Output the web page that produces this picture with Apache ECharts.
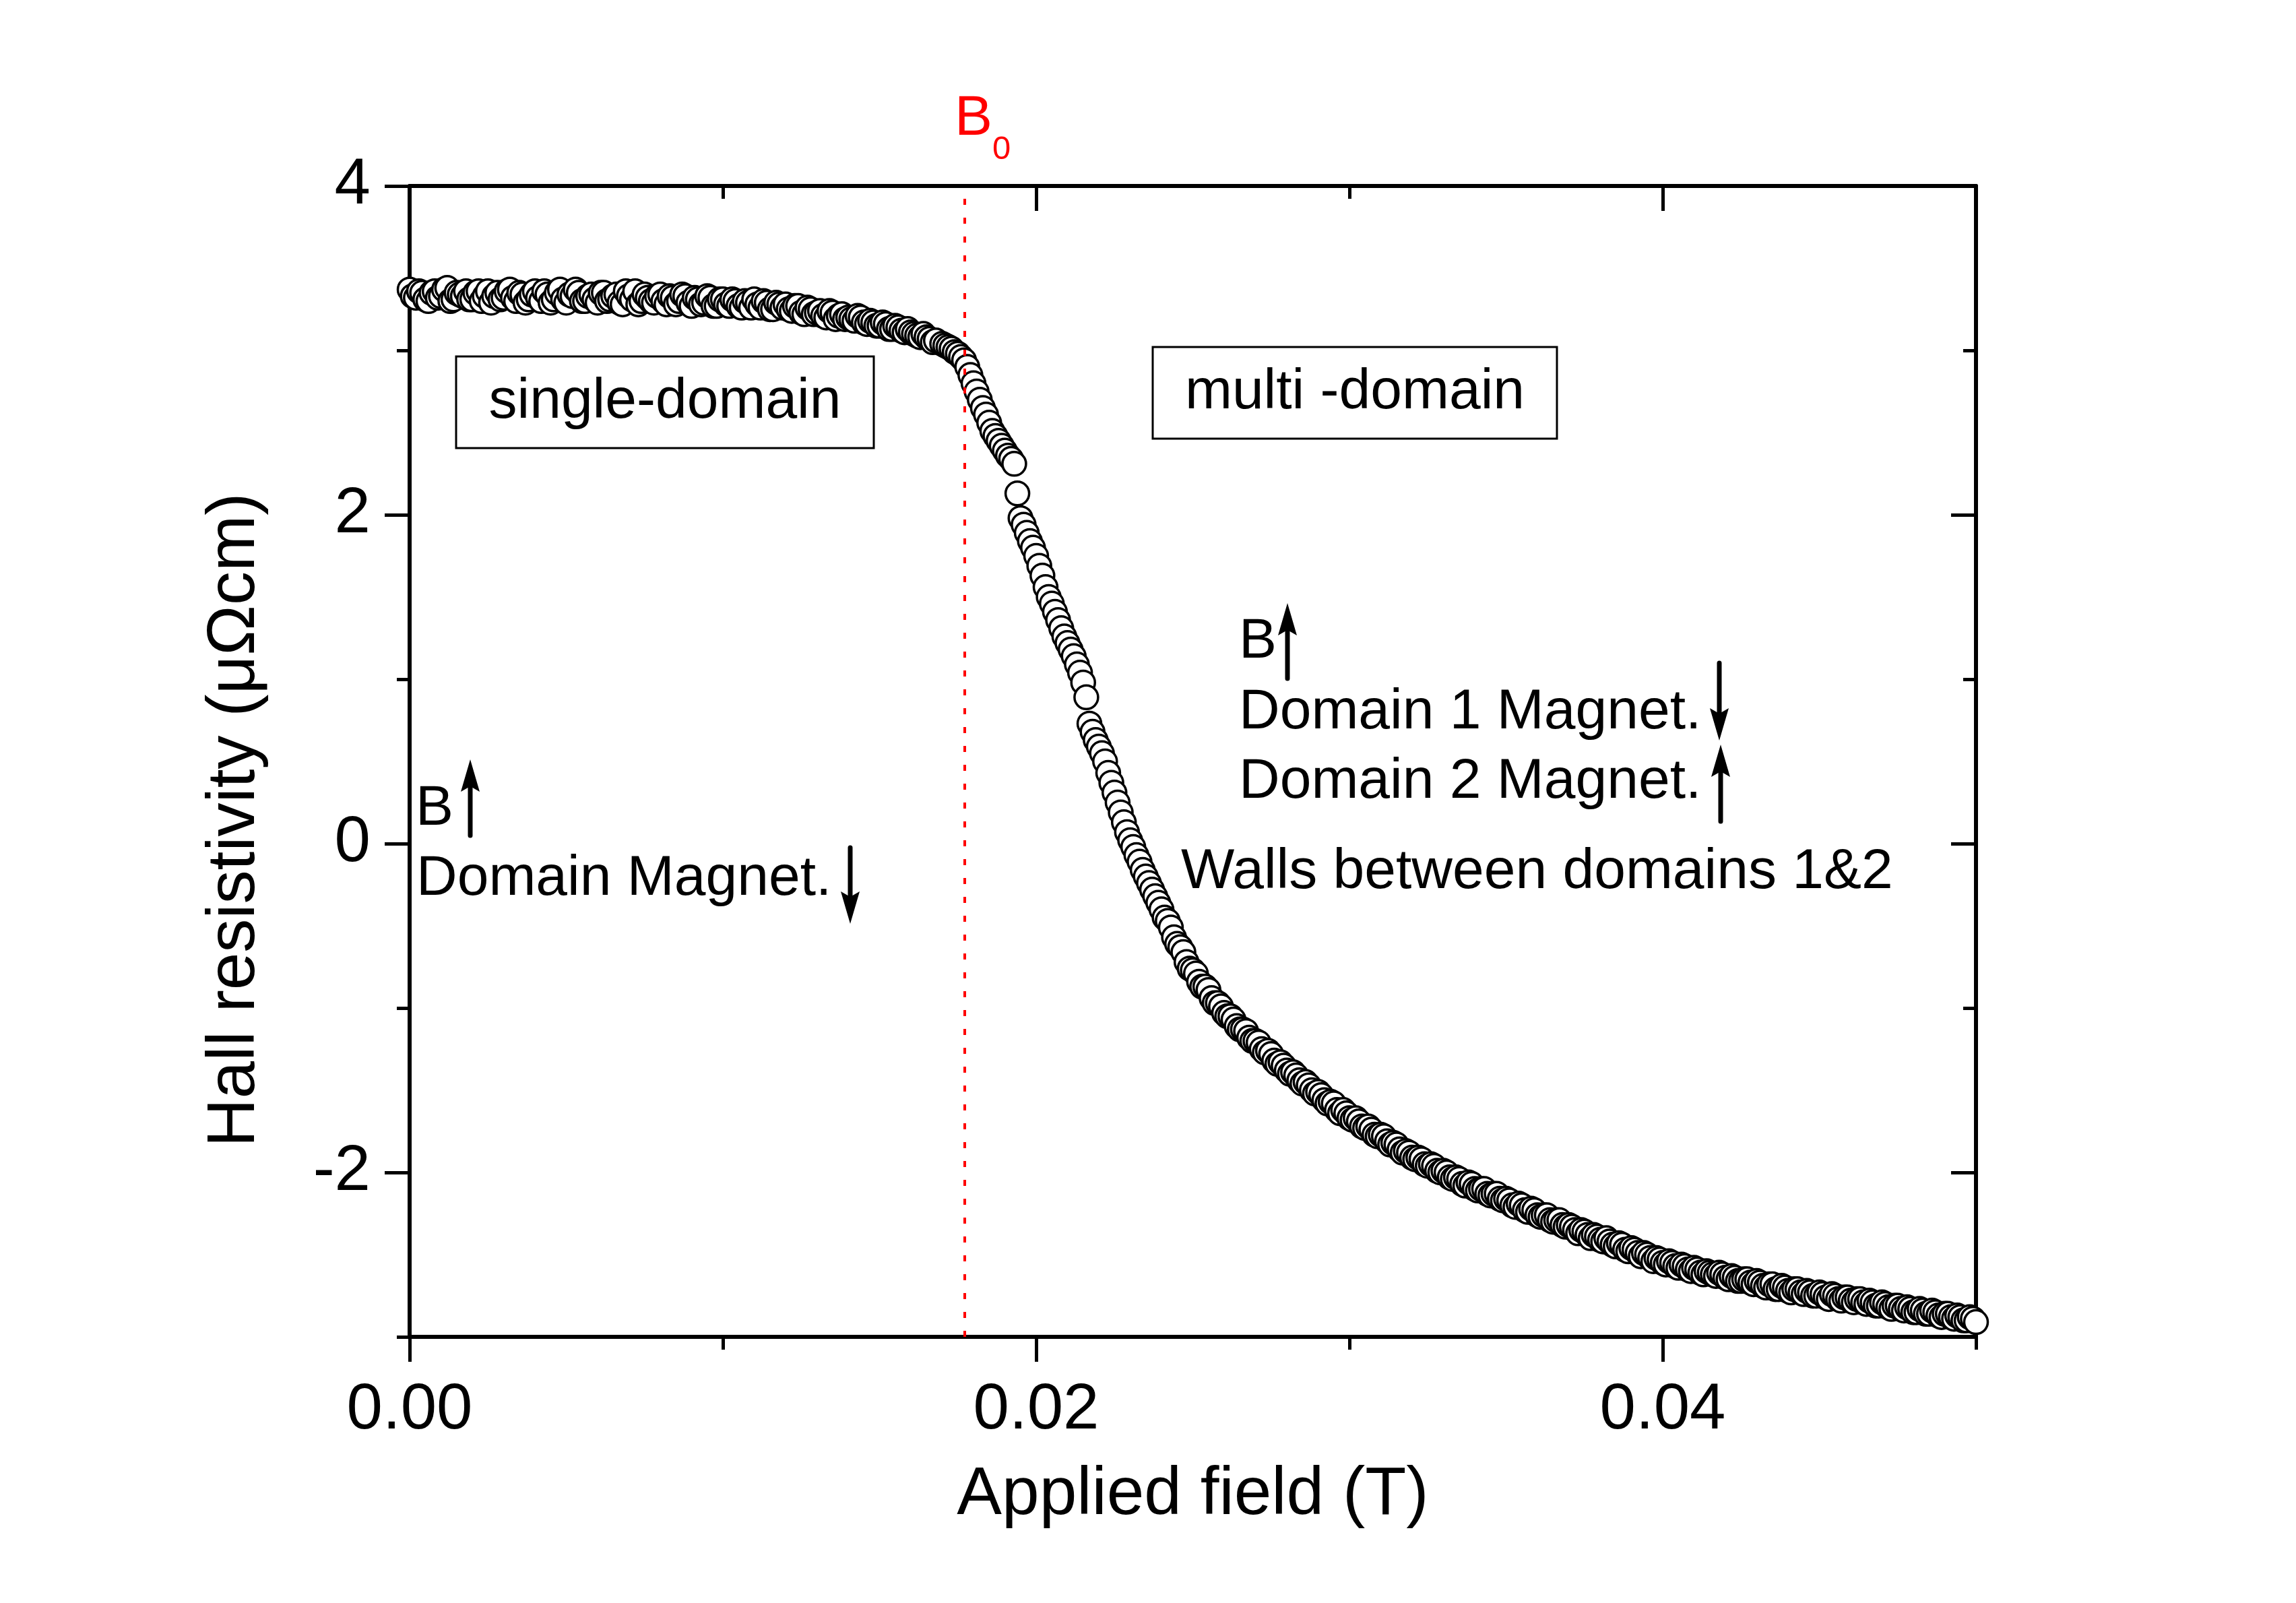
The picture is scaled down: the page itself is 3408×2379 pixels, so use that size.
<!DOCTYPE html>
<html>
<head>
<meta charset="utf-8">
<title>Hall resistivity vs applied field</title>
<script src="https://cdn.jsdelivr.net/npm/echarts@6.0.0/dist/echarts.min.js"></script>
<style>
    html, body { margin: 0; padding: 0; background: #fff; }
    #hall-chart { width: 3408px; height: 2379px; }
</style>
</head>
<body>
<div id="hall-chart"></div>
<script>
// applied field (T)
var field = [
    0.0000,0.0002,0.0004,0.0006,0.0008,0.0010,0.0012,0.0014,0.0016,0.0018,
    0.0020,0.0022,0.0024,0.0026,0.0028,0.0030,0.0032,0.0034,0.0036,0.0038,
    0.0040,0.0042,0.0044,0.0046,0.0048,0.0050,0.0052,0.0054,0.0056,0.0058,
    0.0060,0.0062,0.0064,0.0066,0.0068,0.0070,0.0072,0.0074,0.0076,0.0078,
    0.0080,0.0082,0.0084,0.0086,0.0088,0.0090,0.0092,0.0094,0.0096,0.0098,
    0.0100,0.0102,0.0104,0.0106,0.0108,0.0110,0.0112,0.0114,0.0116,0.0118,
    0.0120,0.0122,0.0124,0.0126,0.0128,0.0130,0.0132,0.0134,0.0136,0.0138,
    0.0140,0.0142,0.0144,0.0146,0.0148,0.0150,0.0152,0.0154,0.0156,0.0158,
    0.0160,0.0162,0.0164,0.0166,0.0168,
    0.0170,0.0171,0.0172,0.0173,0.0174,0.0175,0.0176,0.0177,0.0178,0.0179,
    0.0180,0.0181,0.0182,0.0183,0.0184,0.0185,0.0186,0.0187,0.0188,0.0189,
    0.0190,0.0191,0.0192,0.0193,0.0194,0.0195,0.0196,0.0197,0.0198,0.0199,
    0.0200,0.0201,0.0202,0.0203,0.0204,0.0205,0.0206,0.0207,0.0208,0.0209,
    0.0210,0.0211,0.0212,0.0213,0.0214,0.0215,0.0216,0.0217,0.0218,0.0219,
    0.0220,0.0221,0.0222,0.0223,0.0224,0.0225,0.0226,0.0227,0.0228,0.0229,
    0.0230,0.0231,0.0232,0.0233,0.0234,0.0235,0.0236,0.0237,0.0238,0.0239,
    0.0240,
    0.0242,0.0244,0.0246,0.0248,0.0250,0.0252,0.0254,0.0256,0.0258,0.0260,
    0.0262,0.0264,0.0266,0.0268,0.0270,0.0272,0.0274,0.0276,0.0278,0.0280,
    0.0282,0.0284,0.0286,0.0288,0.0290,0.0292,0.0294,0.0296,0.0298,0.0300,
    0.0302,0.0304,0.0306,0.0308,0.0310,0.0312,0.0314,0.0316,0.0318,0.0320,
    0.0322,0.0324,0.0326,0.0328,0.0330,0.0332,0.0334,0.0336,0.0338,0.0340,
    0.0342,0.0344,0.0346,0.0348,0.0350,0.0352,0.0354,0.0356,0.0358,0.0360,
    0.0362,0.0364,0.0366,0.0368,0.0370,0.0372,0.0374,0.0376,0.0378,0.0380,
    0.0382,0.0384,0.0386,0.0388,0.0390,0.0392,0.0394,0.0396,0.0398,0.0400,
    0.0402,0.0404,0.0406,0.0408,0.0410,0.0412,0.0414,0.0416,0.0418,0.0420,
    0.0422,0.0424,0.0426,0.0428,0.0430,0.0432,0.0434,0.0436,0.0438,0.0440,
    0.0442,0.0444,0.0446,0.0448,0.0450,0.0452,0.0454,0.0456,0.0458,0.0460,
    0.0462,0.0464,0.0466,0.0468,0.0470,0.0472,0.0474,0.0476,0.0478,0.0480,
    0.0482,0.0484,0.0486,0.0488,0.0490,0.0492,0.0494,0.0496,0.0498,0.0500
];
// Hall resistivity (μΩcm), same order as field
var rho = [
    3.37,3.32,3.35,3.30,3.36,3.33,3.38,3.31,3.34,3.36,
    3.31,3.36,3.33,3.29,3.35,3.32,3.37,3.30,3.34,3.31,
    3.36,3.30,3.34,3.31,3.37,3.29,3.33,3.35,3.30,3.34,
    3.29,3.35,3.31,3.34,3.28,3.33,3.36,3.30,3.32,3.29,
    3.34,3.28,3.32,3.30,3.33,3.27,3.31,3.29,3.32,3.27,
    3.31,3.27,3.30,3.26,3.29,3.31,3.26,3.29,3.25,3.28,
    3.28,3.24,3.27,3.22,3.25,3.23,3.21,3.24,3.19,3.22,
    3.20,3.18,3.20,3.16,3.17,3.15,3.16,3.13,3.14,3.11,
    3.11,3.09,3.10,3.07,3.06,
    3.04,3.03,3.02,3.01,2.99,2.98,2.96,2.94,2.90,2.85,
    2.80,2.75,2.70,2.65,2.61,2.56,2.51,2.48,2.45,2.42,
    2.39,2.36,2.34,2.31,2.13,1.98,1.94,1.89,1.84,1.80,
    1.75,1.69,1.63,1.56,1.50,1.46,1.41,1.36,1.31,1.26,
    1.22,1.18,1.14,1.09,1.04,0.98,0.89,0.73,0.68,0.63,
    0.59,0.55,0.50,0.43,0.37,0.31,0.25,0.19,0.13,0.07,
    0.02,-0.02,-0.07,-0.11,-0.16,-0.20,-0.24,-0.28,-0.32,-0.36,
    -0.40,
    -0.47,-0.57,-0.63,-0.72,-0.77,-0.84,-0.87,-0.94,-0.97,-1.03,
    -1.05,-1.11,-1.13,-1.18,-1.20,-1.25,-1.26,-1.32,-1.33,-1.38,
    -1.39,-1.44,-1.45,-1.50,-1.51,-1.56,-1.57,-1.62,-1.62,-1.67,
    -1.67,-1.72,-1.72,-1.77,-1.77,-1.81,-1.82,-1.86,-1.87,-1.91,
    -1.91,-1.95,-1.95,-1.99,-1.99,-2.03,-2.03,-2.07,-2.06,-2.10,
    -2.10,-2.13,-2.13,-2.16,-2.16,-2.20,-2.19,-2.23,-2.22,-2.26,
    -2.26,-2.29,-2.29,-2.32,-2.32,-2.35,-2.35,-2.38,-2.38,-2.41,
    -2.40,-2.44,-2.43,-2.47,-2.46,-2.49,-2.49,-2.52,-2.52,-2.55,
    -2.54,-2.57,-2.56,-2.59,-2.58,-2.61,-2.60,-2.62,-2.61,-2.64,
    -2.63,-2.66,-2.65,-2.67,-2.66,-2.69,-2.68,-2.71,-2.69,-2.72,
    -2.71,-2.73,-2.72,-2.75,-2.73,-2.76,-2.74,-2.77,-2.76,-2.78,
    -2.77,-2.79,-2.78,-2.81,-2.79,-2.82,-2.81,-2.83,-2.82,-2.85,
    -2.83,-2.86,-2.84,-2.87,-2.86,-2.88,-2.87,-2.90,-2.88,-2.91
];
// readings lying between the ones above (flat part and tail), read the same way
var field2 = [
    0.0001,0.0003,0.0005,0.0007,0.0009,0.0011,0.0013,0.0015,0.0017,0.0019,
    0.0021,0.0023,0.0025,0.0027,0.0029,0.0031,0.0033,0.0035,0.0037,0.0039,
    0.0041,0.0043,0.0045,0.0047,0.0049,0.0051,0.0053,0.0055,0.0057,0.0059,
    0.0061,0.0063,0.0065,0.0067,0.0069,0.0071,0.0073,0.0075,0.0077,0.0079,
    0.0081,0.0083,0.0085,0.0087,0.0089,0.0091,0.0093,0.0095,0.0097,0.0099,
    0.0101,0.0103,0.0105,0.0107,0.0109,0.0111,0.0113,0.0115,0.0117,0.0119,
    0.0121,0.0123,0.0125,0.0127,0.0129,0.0131,0.0133,0.0135,0.0137,0.0139,
    0.0141,0.0143,0.0145,0.0147,0.0149,0.0151,0.0153,0.0155,0.0157,0.0159,
    0.0161,0.0163,0.0165,0.0167,
    0.0241,0.0243,0.0245,0.0247,0.0249,0.0251,0.0253,0.0255,0.0257,0.0259,
    0.0261,0.0263,0.0265,0.0267,0.0269,0.0271,0.0273,0.0275,0.0277,0.0279,
    0.0281,0.0283,0.0285,0.0287,0.0289,0.0291,0.0293,0.0295,0.0297,0.0299,
    0.0301,0.0303,0.0305,0.0307,0.0309,0.0311,0.0313,0.0315,0.0317,0.0319,
    0.0321,0.0323,0.0325,0.0327,0.0329,0.0331,0.0333,0.0335,0.0337,0.0339,
    0.0341,0.0343,0.0345,0.0347,0.0349,0.0351,0.0353,0.0355,0.0357,0.0359,
    0.0361,0.0363,0.0365,0.0367,0.0369,0.0371,0.0373,0.0375,0.0377,0.0379,
    0.0381,0.0383,0.0385,0.0387,0.0389,0.0391,0.0393,0.0395,0.0397,0.0399,
    0.0401,0.0403,0.0405,0.0407,0.0409,0.0411,0.0413,0.0415,0.0417,0.0419,
    0.0421,0.0423,0.0425,0.0427,0.0429,0.0431,0.0433,0.0435,0.0437,0.0439,
    0.0441,0.0443,0.0445,0.0447,0.0449,0.0451,0.0453,0.0455,0.0457,0.0459,
    0.0461,0.0463,0.0465,0.0467,0.0469,0.0471,0.0473,0.0475,0.0477,0.0479,
    0.0481,0.0483,0.0485,0.0487,0.0489,0.0491,0.0493,0.0495,0.0497,0.0499
];
var rho2 = [
    3.33,3.36,3.31,3.35,3.32,3.37,3.30,3.35,3.33,3.31,
    3.35,3.30,3.36,3.33,3.31,3.36,3.32,3.35,3.29,3.34,
    3.32,3.36,3.29,3.35,3.31,3.34,3.37,3.30,3.33,3.31,
    3.35,3.30,3.33,3.29,3.36,3.31,3.28,3.34,3.30,3.33,
    3.30,3.33,3.28,3.34,3.29,3.32,3.28,3.33,3.27,3.31,
    3.28,3.31,3.27,3.30,3.26,3.28,3.30,3.25,3.29,3.26,
    3.25,3.27,3.23,3.26,3.22,3.24,3.20,3.23,3.21,3.19,
    3.19,3.21,3.17,3.18,3.15,3.17,3.13,3.15,3.12,3.13,
    3.10,3.08,3.08,3.05,
    -0.45,-0.51,-0.61,-0.66,-0.76,-0.79,-0.87,-0.89,-0.97,-0.99,
    -1.05,-1.07,-1.13,-1.14,-1.20,-1.21,-1.27,-1.28,-1.34,-1.35,
    -1.40,-1.41,-1.46,-1.47,-1.52,-1.53,-1.58,-1.58,-1.64,-1.64,
    -1.68,-1.69,-1.73,-1.74,-1.78,-1.78,-1.83,-1.83,-1.88,-1.88,
    -1.92,-1.92,-1.96,-1.96,-2.00,-2.00,-2.04,-2.04,-2.08,-2.07,
    -2.11,-2.10,-2.14,-2.13,-2.17,-2.17,-2.21,-2.20,-2.24,-2.23,
    -2.27,-2.26,-2.30,-2.29,-2.33,-2.33,-2.37,-2.36,-2.40,-2.39,
    -2.42,-2.42,-2.45,-2.44,-2.48,-2.47,-2.51,-2.50,-2.54,-2.53,
    -2.56,-2.55,-2.58,-2.57,-2.60,-2.59,-2.62,-2.61,-2.63,-2.62,
    -2.65,-2.64,-2.66,-2.65,-2.68,-2.67,-2.70,-2.68,-2.71,-2.70,
    -2.73,-2.71,-2.74,-2.73,-2.75,-2.74,-2.77,-2.75,-2.78,-2.76,
    -2.79,-2.77,-2.80,-2.79,-2.81,-2.80,-2.83,-2.81,-2.84,-2.83,
    -2.85,-2.84,-2.86,-2.85,-2.88,-2.86,-2.89,-2.88,-2.90,-2.89
];
var b0Field = 0.01772;                 // B0, red dotted line
var fieldTicks = [0, 0.02, 0.04];      // labelled x ticks
var rhoTicks = [-2, 0, 2, 4];          // labelled y ticks

var FONT = '"Liberation Sans", Arial, sans-serif';

var myChart = echarts.init(document.getElementById('hall-chart'));

// one axis of the frame: major = long ticks (+labels), minor = short ticks only
function frameAxis(grid, pos, isMajor, extra) {
    var isX = pos === 'bottom' || pos === 'top';
    var outside = pos === 'bottom' || pos === 'left';
    var ax = {
        type: 'value',
        gridIndex: grid,
        position: pos,
        min: isX ? 0 : -3,
        max: isX ? 0.05 : 4,
        interval: isX ? 0.01 : 1,
        axisLine: { show: isMajor, onZero: false, lineStyle: { color: '#000', width: 6 } },
        axisTick: {
            show: true,
            inside: !outside,
            length: isMajor ? 37 : 19,
            lineStyle: { color: '#000', width: 5 }
        },
        axisLabel: { show: false },
        splitLine: { show: false }
    };
    if (isMajor) {
        ax.axisTick.customValues = isX ? fieldTicks : rhoTicks;
    }
    return Object.assign(ax, extra || {});
}

// both reading lists together, in field order so later points sit on top
var series = field.map(function (f, i) { return [f, rho[i]]; })
    .concat(field2.map(function (f, i) { return [f, rho2[i]]; }))
    .sort(function (a, b) { return a[0] - b[0]; });

// vertical arrow: shaft + head, tip at y2
function arrow(x, y1, y2) {
    var d = y2 > y1 ? 1 : -1;
    return [{
        type: 'line',
        shape: { x1: x, y1: y1, x2: x, y2: y2 - d * 34 },
        style: { stroke: '#000', lineWidth: 7, lineCap: 'round' }
    }, {
        type: 'polygon',
        shape: { points: [[x, y2], [x + 14, y2 - d * 48], [x, y2 - d * 40], [x - 14, y2 - d * 48]] },
        style: { fill: '#000' }
    }];
}
function label(x, y, txt, size, color) {
    return {
        type: 'text', x: x, y: y,
        style: {
            text: txt, fill: color || '#000', fontSize: size || 84, fontFamily: FONT,
            align: 'left', verticalAlign: 'middle'
        }
    };
}
function box(x, y, w, h) {
    return {
        type: 'rect', shape: { x: x, y: y, width: w, height: h },
        style: { fill: 'none', stroke: '#000', lineWidth: 3 }
    };
}

var notes = [
    box(677, 529, 620, 136),
    { type: 'text', x: 987, y: 597, style: { text: 'single-domain', fill: '#000', fontSize: 84, fontFamily: FONT, align: 'center', verticalAlign: 'middle' } },
    box(1711, 515, 600, 136),
    { type: 'text', x: 2011, y: 583, style: { text: 'multi -domain', fill: '#000', fontSize: 84, fontFamily: FONT, align: 'center', verticalAlign: 'middle' } },
    label(617, 1201, 'B'),
    label(618, 1305, 'Domain Magnet.'),
    label(1839, 953, 'B'),
    label(1839, 1058, 'Domain 1 Magnet.'),
    label(1839, 1161, 'Domain 2 Magnet.'),
    label(1753, 1295, 'Walls between domains 1&2'),
    label(1417, 177, 'B', 84, '#ff0000'),
    label(1473, 222, '0', 49, '#ff0000')
].concat(
    arrow(698, 1240, 1127),
    arrow(1262, 1258, 1371),
    arrow(1911, 1007, 895),
    arrow(2552, 984, 1099),
    arrow(2554, 1219, 1105)
);

myChart.setOption({
    animation: false,
    backgroundColor: '#fff',
    grid: [
        { left: 608, right: 475, top: 276, bottom: 395 },
        { left: 608, right: 475, top: 276, bottom: 395 }   // minor ticks live here
    ],
    xAxis: [
        frameAxis(0, 'bottom', true, {
            axisLabel: {
                show: true, customValues: fieldTicks, margin: 62,
                fontSize: 96, fontFamily: FONT, color: '#000',
                formatter: function (v) { return v.toFixed(2); }
            },
            name: 'Applied field (T)',
            nameLocation: 'middle',
            nameGap: 185,
            nameTextStyle: { fontSize: 100, fontFamily: FONT, color: '#000' }
        }),
        frameAxis(0, 'top', true),
        frameAxis(1, 'bottom', false),
        frameAxis(1, 'top', false)
    ],
    yAxis: [
        frameAxis(0, 'left', true, {
            axisLabel: {
                show: true, customValues: rhoTicks, margin: 58,
                fontSize: 96, fontFamily: FONT, color: '#000'
            },
            name: 'Hall resistivity (μΩcm)',
            nameLocation: 'middle',
            nameGap: 209,
            nameTextStyle: { fontSize: 100, fontFamily: FONT, color: '#000', padding: [0, 174, 0, 0] }
        }),
        frameAxis(0, 'right', true),
        frameAxis(1, 'left', false),
        frameAxis(1, 'right', false)
    ],
    series: [{
        name: 'Hall resistivity',
        type: 'scatter',
        xAxisIndex: 0,
        yAxisIndex: 0,
        data: series,
        symbol: 'circle',
        symbolSize: 35,
        itemStyle: { color: '#fff', borderColor: '#000', borderWidth: 3.5, opacity: 1 },
        markLine: {   // B0
            silent: true,
            precision: 6,   // default 2 would round B0 to 0.02
            symbol: ['none', 'none'],
            label: { show: false },
            lineStyle: { color: '#ff0000', width: 4, type: [9, 19] },
            data: [{ xAxis: b0Field }]
        }
    }],
    graphic: notes
});
</script>
</body>
</html>
